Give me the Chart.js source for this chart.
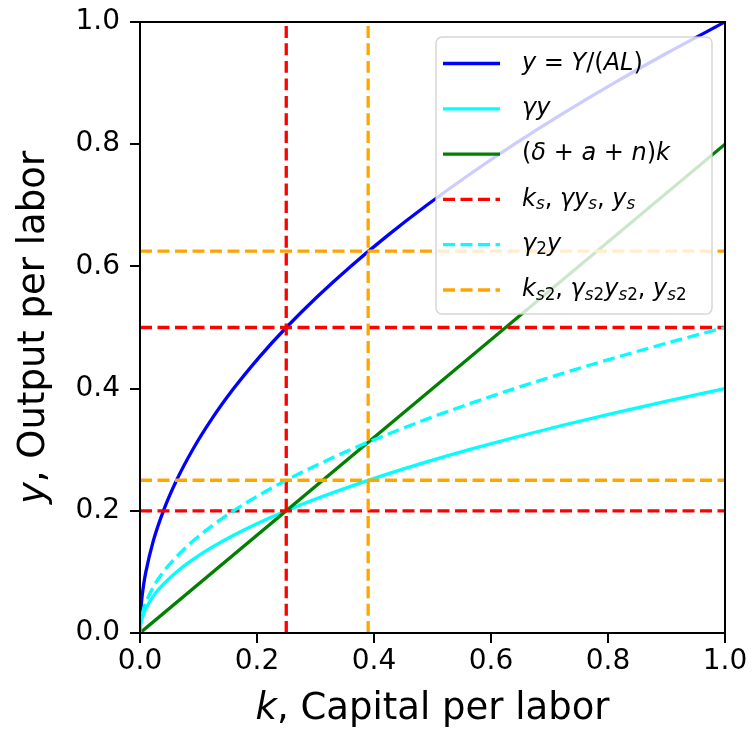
<!DOCTYPE html>
<html>
<head>
<meta charset="utf-8">
<script src="https://cdn.jsdelivr.net/npm/chart.js@4"></script>
<style>
  html, body { margin: 0; padding: 0; background: #fff; }
  #wrap { width: 752px; height: 731px; }
</style>
</head>
<body>
<div id="wrap"><canvas id="chartCanvas" width="752" height="731"></canvas></div>
<script>
// capital per labor samples and the curves
const kPoints = [0, 0.0001, 0.0004, 0.0016, 0.0036, 0.0064, 0.01, 0.0225, 0.04, 0.0625, 0.09, 0.1225, 0.16, 0.2025, 0.25, 0.3025, 0.36, 0.4225, 0.49, 0.5625, 0.64, 0.7225, 0.81, 0.9025, 1.0];
const yPoints = [0, 0.01, 0.02, 0.04, 0.06, 0.08, 0.1, 0.15, 0.2, 0.25, 0.3, 0.35, 0.4, 0.45, 0.5, 0.55, 0.6, 0.65, 0.7, 0.75, 0.8, 0.85, 0.9, 0.95, 1.0];
const gammaYPoints = [0, 0.004, 0.008, 0.016, 0.024, 0.032, 0.04, 0.06, 0.08, 0.1, 0.12, 0.14, 0.16, 0.18, 0.2, 0.22, 0.24, 0.26, 0.28, 0.3, 0.32, 0.34, 0.36, 0.38, 0.4];
const gamma2YPoints = [0, 0.005, 0.01, 0.02, 0.03, 0.04, 0.05, 0.075, 0.1, 0.125, 0.15, 0.175, 0.2, 0.225, 0.25, 0.275, 0.3, 0.325, 0.35, 0.375, 0.4, 0.425, 0.45, 0.475, 0.5];
const depK = [0, 1];
const depY = [0, 0.8];

// steady states
const ks = 0.25, gammaYs = 0.2, ys = 0.5;
const ks2 = 0.39, gammaYs2 = 0.25, ys2 = 0.625;

const tickValues = [0, 0.2, 0.4, 0.6, 0.8, 1.0];

const BLUE = '#0000ff', CYAN = '#00ffff', GREEN = '#008000', RED = '#ff0000', ORANGE = '#ffa500';
const FONT = '"DejaVu Sans", Verdana, sans-serif';
const LW = 3.3;
const DASH = [12, 5.5];

function pts(xs, ys) { return xs.map((x, i) => ({ x: x, y: ys[i] })); }
function vline(x) { return [{ x: x, y: 0 }, { x: x, y: 1 }]; }
function hline(y) { return [{ x: 0, y: y }, { x: 1, y: y }]; }

function line(data, color, dashed) {
  return {
    data: data,
    borderColor: color,
    borderWidth: LW,
    borderDash: dashed ? DASH : [],
    pointRadius: 0,
    fill: false,
    cubicInterpolationMode: 'monotone'
  };
}

const datasets = [
  line(pts(kPoints, yPoints), BLUE, false),
  line(pts(kPoints, gammaYPoints), CYAN, false),
  line(pts(depK, depY), GREEN, false),
  line(vline(ks), RED, true),
  line(hline(gammaYs), RED, true),
  line(hline(ys), RED, true),
  line(pts(kPoints, gamma2YPoints), CYAN, true),
  line(vline(ks2), ORANGE, true),
  line(hline(gammaYs2), ORANGE, true),
  line(hline(ys2), ORANGE, true)
];
// matplotlib draws later lines on top
datasets.forEach((d, i) => d.order = datasets.length - i);

// legend rows: [text, style]  i=italic, r=roman, si=italic subscript, sr=roman subscript
const legendItems = [
  { color: BLUE, dashed: false, parts: [['y', 'i'], [' = ', 'r'], ['Y', 'i'], ['/(', 'r'], ['AL', 'i'], [')', 'r']] },
  { color: CYAN, dashed: false, parts: [['γy', 'i']] },
  { color: GREEN, dashed: false, parts: [['(', 'r'], ['δ', 'i'], [' + ', 'r'], ['a', 'i'], [' + ', 'r'], ['n', 'i'], [')', 'r'], ['k', 'i']] },
  { color: RED, dashed: true, parts: [['k', 'i'], ['s', 'si'], [', ', 'r'], ['γy', 'i'], ['s', 'si'], [', ', 'r'], ['y', 'i'], ['s', 'si']] },
  { color: CYAN, dashed: true, parts: [['γ', 'i'], ['2', 'sr'], ['y', 'i']] },
  { color: ORANGE, dashed: true, parts: [['k', 'i'], ['s', 'si'], ['2', 'sr'], [', ', 'r'], ['γ', 'i'], ['s', 'si'], ['2', 'sr'], ['y', 'i'], ['s', 'si'], ['2', 'sr'], [', ', 'r'], ['y', 'i'], ['s', 'si'], ['2', 'sr']] }
];

function drawParts(ctx, parts, x, y, size) {
  parts.forEach(([t, s]) => {
    const sub = s === 'si' || s === 'sr';
    const italic = s === 'i' || s === 'si';
    const fs = sub ? size * 0.7 : size;
    ctx.font = (italic ? 'italic ' : '') + fs + 'px ' + FONT;
    ctx.fillText(t, x, sub ? y + size * 0.22 : y);
    x += ctx.measureText(t).width;
  });
}

function partsWidth(ctx, parts, size) {
  let w = 0;
  parts.forEach(([t, s]) => { ctx.font = (s === 'i' ? 'italic ' : '') + size + 'px ' + FONT; w += ctx.measureText(t).width; });
  return w;
}

const decorPlugin = {
  id: 'decor',
  afterDatasetsDraw(chart) {
    const ctx = chart.ctx;
    const a = chart.chartArea;
    ctx.save();
    // frame
    ctx.strokeStyle = '#000';
    ctx.lineWidth = 2;
    ctx.strokeRect(a.left, a.top, a.right - a.left, a.bottom - a.top);

    // legend
    const lx = 436, ly = 37, lw = 276, lh = 277;
    ctx.beginPath();
    ctx.roundRect(lx, ly, lw, lh, 6);
    ctx.fillStyle = 'rgba(255,255,255,0.8)';
    ctx.fill();
    ctx.strokeStyle = 'rgba(204,204,204,0.8)';
    ctx.lineWidth = 1.5;
    ctx.stroke();
    ctx.textBaseline = 'middle';
    ctx.textAlign = 'left';
    legendItems.forEach((it, i) => {
      const yy = 63.5 + i * 45.3;
      ctx.beginPath();
      ctx.strokeStyle = it.color;
      ctx.lineWidth = LW;
      ctx.setLineDash(it.dashed ? DASH : []);
      ctx.moveTo(443, yy);
      ctx.lineTo(500, yy);
      ctx.stroke();
      ctx.setLineDash([]);
      ctx.fillStyle = '#000';
      drawParts(ctx, it.parts, 522, yy, 24);
    });

    // axis titles
    ctx.fillStyle = '#000';
    ctx.textBaseline = 'alphabetic';
    const titleSize = 37;
    const xt = [['k', 'i'], [', Capital per labor', 'r']];
    let w = partsWidth(ctx, xt, titleSize);
    drawParts(ctx, xt, (a.left + a.right) / 2 - w / 2, 719, titleSize);

    const yt = [['y', 'i'], [', Output per labor', 'r']];
    w = partsWidth(ctx, yt, titleSize);
    ctx.translate(44, (a.top + a.bottom) / 2);
    ctx.rotate(-Math.PI / 2);
    drawParts(ctx, yt, -w / 2, 0, titleSize);
    ctx.restore();
  }
};

const tickFont = { family: FONT, size: 28 };

new Chart(document.getElementById('chartCanvas').getContext('2d'), {
  type: 'line',
  data: { datasets: datasets },
  options: {
    responsive: false,
    animation: false,
    layout: { padding: { left: 0, top: 22, right: 27, bottom: 0 } },
    plugins: { legend: { display: false }, tooltip: { enabled: false } },
    scales: {
      x: {
        type: 'linear', min: 0, max: 1,
        afterBuildTicks: s => { s.ticks = tickValues.map(v => ({ value: v })); },
        afterFit: s => { s.height = 98; s.paddingLeft = 0; s.paddingRight = 0; },
        ticks: { color: '#000', font: tickFont, padding: 2, maxRotation: 0, callback: v => v.toFixed(1) },
        grid: { drawOnChartArea: false, drawTicks: true, tickLength: 10, color: '#000', lineWidth: 2 },
        border: { display: true, color: '#000', width: 2 }
      },
      y: {
        type: 'linear', min: 0, max: 1,
        afterBuildTicks: s => { s.ticks = tickValues.map(v => ({ value: v })); },
        afterFit: s => { s.width = 140; s.paddingTop = 0; s.paddingBottom = 0; },
        ticks: { color: '#000', font: tickFont, padding: 10, callback: v => v.toFixed(1) },
        grid: { drawOnChartArea: false, drawTicks: true, tickLength: 10, color: '#000', lineWidth: 2 },
        border: { display: true, color: '#000', width: 2 }
      }
    }
  },
  plugins: [decorPlugin]
});
</script>
</body>
</html>
